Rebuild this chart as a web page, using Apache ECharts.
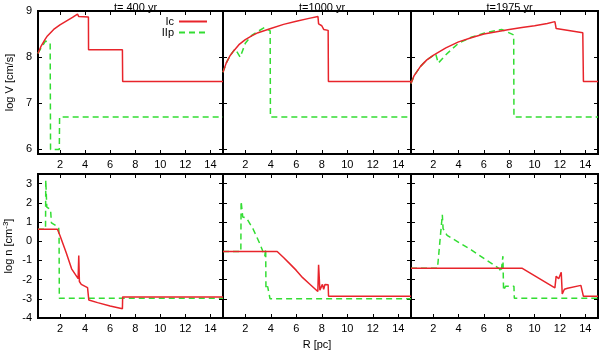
<!DOCTYPE html>
<html>
<head>
<meta charset="utf-8">
<script src="https://cdn.jsdelivr.net/npm/echarts@6/dist/echarts.min.js"></script>
<style>
  html, body { margin: 0; padding: 0; background: #fff; }
  #main { width: 600px; height: 351px; }
</style>
</head>
<body>
<div id="main"></div>
<script>
// axis ticks
const xTicks = [2, 4, 6, 8, 10, 12, 14];
const vTicks = [6, 7, 8, 9];
const nTicks = [-4, -3, -2, -1, 0, 1, 2, 3];
const titles = ['t= 400 yr', 't=1000 yr', 't=1975 yr'];

// log V, t=400 yr
const ic400V = [[0.25,8.08],[0.5,8.24],[0.8,8.38],[1.0,8.46],[1.5,8.6],[2.0,8.7],[2.5,8.78],[3.0,8.86],[3.4,8.93],[3.5,8.88],[4.27,8.87],[4.28,8.16],[6.98,8.16],[7.0,7.47],[15,7.47]];
const iip400V = [[0.25,8.08],[0.5,8.2],[0.85,8.35],[1.22,8.3],[1.25,6.0],[1.95,6.0],[1.97,6.7],[15,6.7]];
// log V, t=1000 yr
const ic1000V = [[0.25,7.67],[0.5,7.87],[0.8,8.03],[1.1,8.14],[1.5,8.27],[2.0,8.38],[2.5,8.46],[3.0,8.53],[4.0,8.62],[5.0,8.71],[6.0,8.78],[7.0,8.84],[7.7,8.88],[7.75,8.72],[7.9,8.76],[8.0,8.68],[8.15,8.6],[8.5,8.58],[8.52,7.47],[15,7.47]];
const iip1000V = [[0.25,7.67],[0.5,7.87],[0.8,8.03],[1.2,8.18],[1.6,8.0],[2.0,8.3],[2.5,8.47],[3.0,8.56],[3.5,8.64],[3.6,8.6],[3.95,8.57],[3.97,6.7],[15,6.7]];
// log V, t=1975 yr
const ic1975V = [[0.25,7.43],[0.5,7.6],[1.0,7.8],[1.5,7.94],[2.0,8.04],[3.0,8.2],[4.0,8.33],[5.0,8.42],[6.0,8.5],[7.0,8.55],[8.0,8.6],[9.0,8.64],[10.0,8.68],[11.0,8.73],[11.6,8.77],[11.7,8.62],[13.8,8.53],[13.85,7.47],[15,7.47]];
const iip1975V = [[0.25,7.43],[0.5,7.6],[1.0,7.8],[1.5,7.94],[2.2,8.07],[2.4,7.87],[3.0,8.05],[3.5,8.18],[4.0,8.3],[5.0,8.43],[6.0,8.52],[7.0,8.58],[7.4,8.6],[8.35,8.48],[8.37,6.7],[15,6.7]];

// log n, t=400 yr
const ic400n = [[0.25,0.62],[1.8,0.62],[2.0,0.3],[2.5,-0.6],[2.93,-1.44],[3.45,-1.95],[3.5,-0.75],[3.55,-2.1],[3.7,-2.25],[4.2,-2.42],[4.28,-2.45],[4.3,-3.06],[5.0,-3.2],[6.0,-3.38],[6.98,-3.52],[7.0,-2.9],[15,-2.9]];
const iip400n = [[0.25,0.62],[0.85,0.62],[0.87,3.17],[0.95,1.78],[1.25,1.65],[1.32,0.95],[1.9,0.72],[1.93,0.3],[1.95,-2.97],[15,-2.97]];
// log n, t=1000 yr
const ic1000n = [[0.25,-0.54],[4.5,-0.54],[5.0,-0.85],[5.5,-1.18],[6.0,-1.52],[6.5,-1.9],[7.0,-2.2],[7.69,-2.62],[7.75,-1.23],[7.85,-2.55],[7.95,-2.62],[8.05,-2.25],[8.15,-2.5],[8.25,-2.25],[8.5,-2.27],[8.53,-2.87],[15,-2.87]];
const iip1000n = [[0.25,-0.54],[1.65,-0.54],[1.67,2.08],[1.8,1.26],[2.1,1.2],[2.6,0.65],[3.14,-0.13],[3.53,-0.78],[3.6,-0.4],[3.62,-2.5],[3.75,-2.35],[3.9,-2.4],[3.94,-3.0],[15,-3.0]];
// log n, t=1975 yr
const ic1975n = [[0.25,-1.41],[9.03,-1.41],[11.6,-2.43],[11.7,-1.82],[11.9,-1.96],[12.1,-1.62],[12.18,-2.75],[12.35,-2.5],[12.6,-2.45],[13.65,-2.3],[13.8,-2.35],[13.85,-2.87],[15,-2.87]];
const iip1975n = [[0.25,-1.41],[2.34,-1.41],[2.72,1.38],[2.78,0.65],[3.1,0.3],[5.0,-0.45],[7.23,-1.44],[7.36,-1.6],[7.5,-0.78],[7.55,-2.57],[7.7,-2.35],[8.37,-2.35],[8.4,-2.97],[15,-2.97]];

const icData = [ic400V, ic1000V, ic1975V, ic400n, ic1000n, ic1975n];
const iipData = [iip400V, iip1000V, iip1975V, iip400n, iip1000n, iip1975n];

const FONT = 'Liberation Sans';
const lefts = [38, 223, 411];
const widths = [185, 188, 187];
const tops = [11, 174];
const heights = [143, 144];

var chart = echarts.init(document.getElementById('main'), null, { renderer: 'canvas' });

var grids = [], xAxes = [], yAxes = [], series = [];
for (let r = 0; r < 2; r++) {
  for (let c = 0; c < 3; c++) {
    const i = r * 3 + c;
    grids.push({
      left: lefts[c], top: tops[r], width: widths[c], height: heights[r],
      show: true, borderColor: '#000', borderWidth: 2, backgroundColor: 'transparent'
    });
    const yMin = r === 0 ? 5.9 : -4;
    const yMax = r === 0 ? 9 : 3.5;
    const yT = r === 0 ? vTicks : nTicks;
    [ 'bottom', 'top' ].forEach(function (pos) {
      xAxes.push({
        type: 'value', gridIndex: i, position: pos, min: 0.25, max: 15,
        axisLine: { show: false, onZero: false },
        splitLine: { show: false },
        axisTick: { show: true, inside: true, length: 4, customValues: xTicks, lineStyle: { color: '#000' } },
        axisLabel: { show: pos === 'bottom', customValues: xTicks, color: '#000', fontFamily: FONT, fontSize: 11, margin: 5 },
        name: (i === 4 && pos === 'bottom') ? 'R [pc]' : '',
        nameLocation: 'middle', nameGap: 21,
        nameTextStyle: { color: '#000', fontFamily: FONT, fontSize: 11 }
      });
    });
    [ 'left', 'right' ].forEach(function (pos) {
      let nm = '';
      if (c === 0 && pos === 'left') nm = r === 0 ? 'log V [cm/s]' : 'log n [cm{sup|-3}]';
      yAxes.push({
        type: 'value', gridIndex: i, position: pos, min: yMin, max: yMax,
        axisLine: { show: false, onZero: false },
        splitLine: { show: false },
        axisTick: { show: true, inside: true, length: 4, customValues: yT, lineStyle: { color: '#000' } },
        axisLabel: { show: c === 0 && pos === 'left', customValues: yT, color: '#000', fontFamily: FONT, fontSize: 11, margin: 6 },
        name: nm, nameLocation: 'middle', nameGap: 23,
        nameTextStyle: {
          color: '#000', fontFamily: FONT, fontSize: 11,
          rich: { sup: { fontSize: 8, verticalAlign: 'top', color: '#000', fontFamily: FONT, padding: [0, 0, 5, 0] } }
        }
      });
    });
    series.push({
      name: 'Ic', type: 'line', xAxisIndex: 2 * i, yAxisIndex: 2 * i,
      data: icData[i], symbol: 'none', z: 3,
      lineStyle: { color: '#e8242b', width: 1.5 }, itemStyle: { color: '#e8242b' }
    });
    series.push({
      name: 'IIp', type: 'line', xAxisIndex: 2 * i, yAxisIndex: 2 * i,
      data: iipData[i], symbol: 'none', z: 2,
      lineStyle: { color: '#33dd33', width: 1.5, type: [6, 4] }, itemStyle: { color: '#33dd33' }
    });
  }
}

var option = {
  backgroundColor: '#fff',
  animation: false,
  title: titles.map(function (t, c) {
    return {
      text: t, left: lefts[c] + widths[c] / 2, top: -3, textAlign: 'center',
      textStyle: { color: '#000', fontFamily: FONT, fontSize: 11, fontWeight: 'normal' }
    };
  }),
  legend: {
    data: ['Ic', 'IIp'], orient: 'vertical', align: 'right',
    right: 387, top: 11, itemWidth: 28, itemHeight: 10, itemGap: 0,
    itemStyle: { opacity: 0 },
    textStyle: { color: '#000', fontFamily: FONT, fontSize: 11 }
  },
  grid: grids,
  xAxis: xAxes,
  yAxis: yAxes,
  series: series
};

chart.setOption(option);
</script>
</body>
</html>
